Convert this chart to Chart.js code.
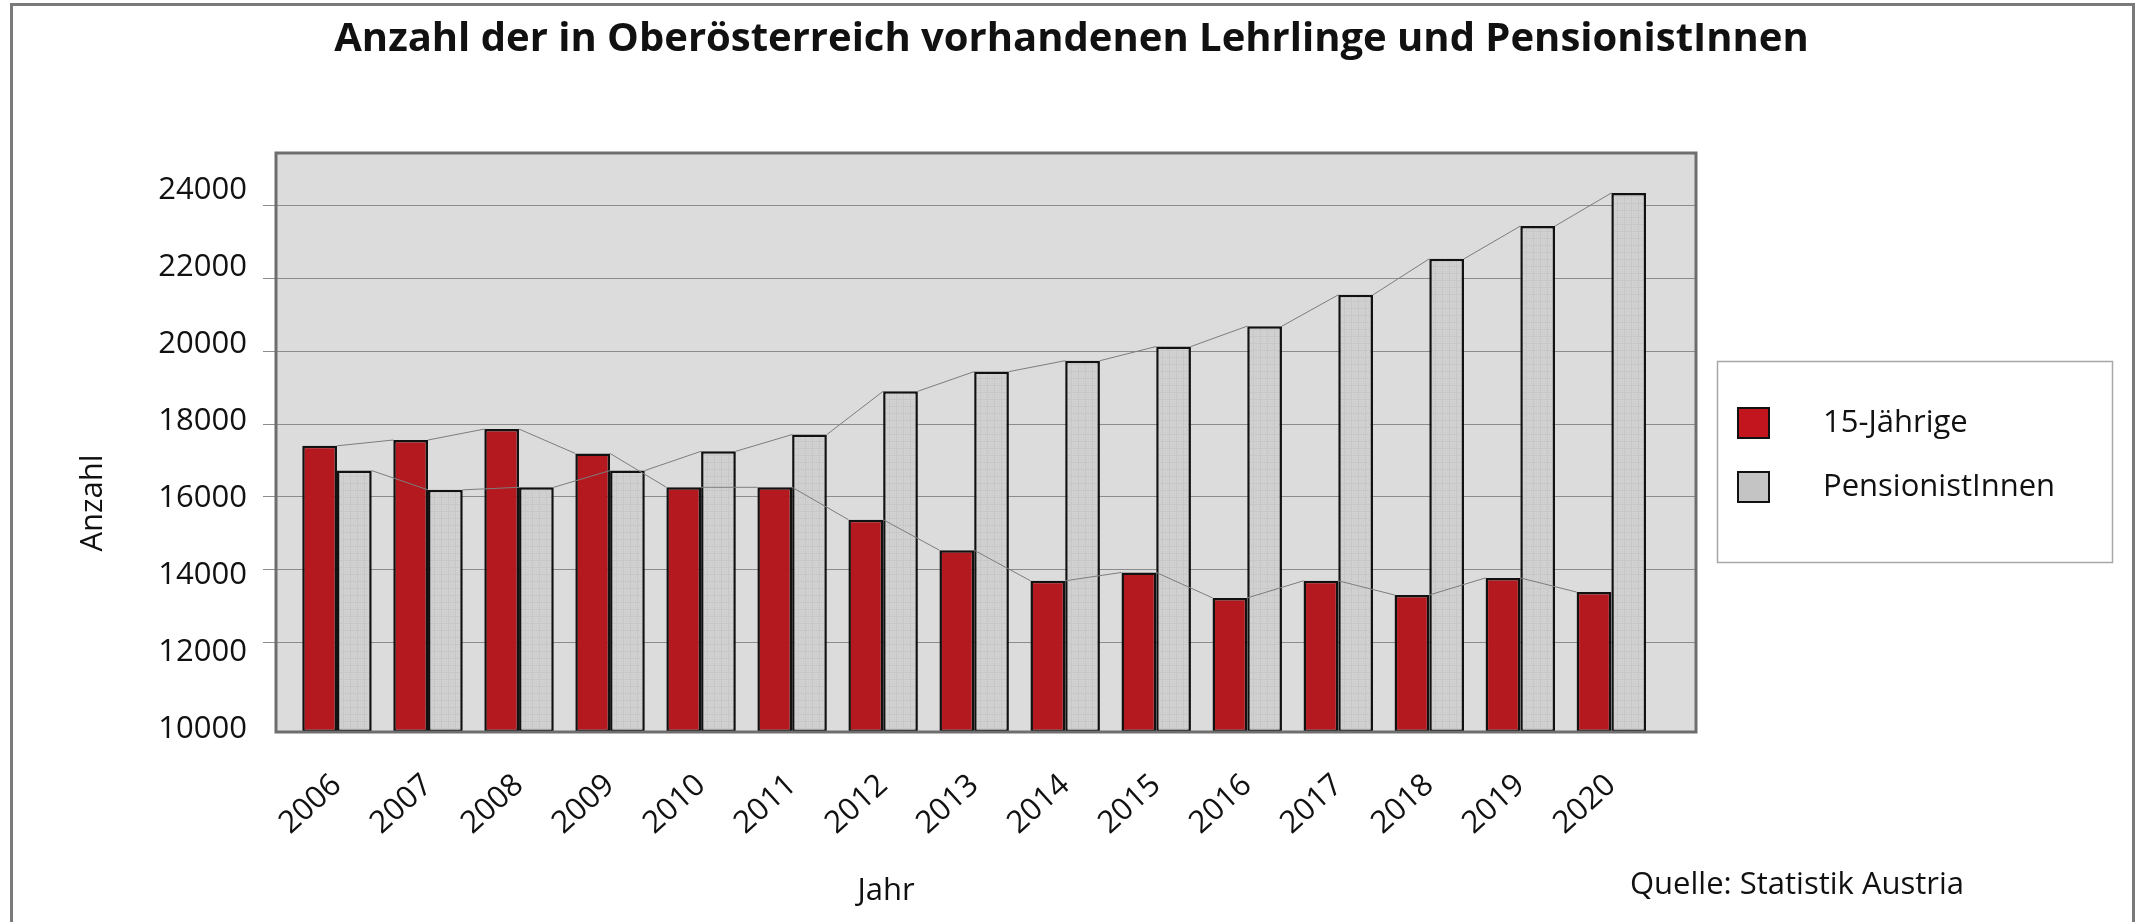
<!DOCTYPE html>
<html>
<head>
<meta charset="utf-8">
<script src="https://cdn.jsdelivr.net/npm/chart.js@4.4.1/dist/chart.umd.min.js"></script>
<style>
  html, body { margin: 0; padding: 0; background: #fff; overflow: hidden; }
  #wrap { width: 2143px; height: 922px; }
</style>
</head>
<body>
<div id="wrap"><canvas id="c" width="2143" height="922"></canvas></div>
<script>
// ---------------- data ----------------
const years = ['2006','2007','2008','2009','2010','2011','2012','2013','2014','2015','2016','2017','2018','2019','2020'];
const fuenfzehnJaehrige = [17400, 17560, 17860, 17190, 16260, 16260, 15370, 14530, 13690, 13920, 13220, 13690, 13300, 13770, 13380];
const pensionistInnen   = [16720, 16190, 16260, 16720, 17250, 17710, 18900, 19440, 19740, 20130, 20690, 21550, 22540, 23440, 24350];
const seriesNames = ['15-Jährige', 'PensionistInnen'];
const gridTickValues  = [12000, 14000, 16000, 18000, 20000, 22000, 24000];
const labelTickValues = [10000, 12000, 14000, 16000, 18000, 20000, 22000, 24000];
const titleText = 'Anzahl der in Oberösterreich vorhandenen Lehrlinge und PensionistInnen';
const yTitle = 'Anzahl';
const xTitle = 'Jahr';
const sourceText = 'Quelle: Statistik Austria';

// ---------------- styling / layout ----------------
const FONT = "'Open Sans', 'Noto Sans', sans-serif";
Chart.defaults.font.family = FONT;
const Y_MIN = 9534, Y_MAX = 25449;      // value range of the plotting scale
const YL_MIN = 9927, YL_MAX = 24977;    // range of the label scale (labels sit on their own spacing)
const RED = '#b3191f';
const LEGEND_RED = '#c2151d';
const LEGEND_GRAY = '#c4c4c4';

function makeGrayPattern() {
  const c = document.createElement('canvas');
  c.width = 7; c.height = 7;
  const g = c.getContext('2d');
  g.fillStyle = '#d1d1d1'; g.fillRect(0, 0, 7, 7);
  g.fillStyle = '#c7c7c7'; g.fillRect(0, 0, 7, 1); g.fillRect(0, 0, 1, 7);
  g.fillStyle = '#cbcbcb'; g.fillRect(3, 3, 1, 1); g.fillRect(5, 5, 1, 1); g.fillRect(2, 5, 1, 1); g.fillRect(5, 2, 1, 1);
  return g.createPattern(c, 'repeat');
}
const grayPattern = makeGrayPattern();

const framePlugin = {
  id: 'frame',
  beforeDraw(chart) {
    const ctx = chart.ctx, a = chart.chartArea;
    ctx.save();
    ctx.fillStyle = '#ffffff';
    ctx.fillRect(0, 0, chart.width, chart.height);
    // outer frame
    ctx.strokeStyle = '#7a7a7a';
    ctx.lineWidth = 3;
    ctx.strokeRect(11.5, 4.5, 2122, 940);
    // plot background
    ctx.fillStyle = '#dcdcdc';
    ctx.fillRect(a.left, a.top, a.right - a.left, a.bottom - a.top);
    ctx.restore();
  },
  afterDatasetsDraw(chart) {
    const ctx = chart.ctx, a = chart.chartArea;
    ctx.save();
    // connector lines between bar tops
    ctx.strokeStyle = '#7d7d7d';
    ctx.lineWidth = 1;
    chart.data.datasets.forEach((ds, di) => {
      const meta = chart.getDatasetMeta(di);
      ctx.beginPath();
      for (let i = 0; i < meta.data.length - 1; i++) {
        const e = meta.data[i], n = meta.data[i + 1];
        ctx.moveTo(e.x + e.width / 2, e.y);
        ctx.lineTo(n.x - n.width / 2, n.y);
      }
      ctx.stroke();
    });
    // plot frame
    ctx.strokeStyle = '#6e6e6e';
    ctx.lineWidth = 3;
    ctx.strokeRect(a.left, a.top, a.right - a.left, a.bottom - a.top);
    ctx.restore();
  },
  afterDraw(chart) {
    const ctx = chart.ctx, a = chart.chartArea;
    ctx.save();
    ctx.fillStyle = '#111';
    ctx.font = '31px ' + FONT;
    ctx.textBaseline = 'middle';
    // axis titles and source
    ctx.textAlign = 'center';
    ctx.save();
    ctx.translate(93, 503);
    ctx.rotate(-Math.PI / 2);
    ctx.fillText(yTitle, 0, 0);
    ctx.restore();
    ctx.fillText(xTitle, 886, 891);
    ctx.textAlign = 'left';
    ctx.fillText(sourceText, 1630, 885);
    // legend
    const lx = a.right + 21, ly = 361;
    ctx.fillStyle = '#ffffff';
    ctx.fillRect(lx, ly, 395, 201);
    ctx.strokeStyle = '#a8a8a8';
    ctx.lineWidth = 1.5;
    ctx.strokeRect(lx + 0.5, ly + 0.5, 395, 201);
    const swatches = [LEGEND_RED, LEGEND_GRAY];
    const rowY = [423, 487];
    seriesNames.forEach((name, i) => {
      ctx.fillStyle = swatches[i];
      ctx.fillRect(lx + 21, rowY[i] - 15, 31, 30);
      ctx.strokeStyle = '#111';
      ctx.lineWidth = 2;
      ctx.strokeRect(lx + 21, rowY[i] - 15, 31, 30);
      ctx.fillStyle = '#111';
      ctx.fillText(name, lx + 106, rowY[i]);
    });
    ctx.restore();
  }
};

const chart = new Chart(document.getElementById('c'), {
  type: 'bar',
  data: {
    datasets: [
      {
        label: seriesNames[0],
        data: years.map((y, i) => ({ x: i, y: fuenfzehnJaehrige[i] })),
        backgroundColor: RED,
        borderColor: '#111',
        borderWidth: 2.5,
        borderSkipped: false,
        base: Y_MIN,
        xAxisID: 'x', yAxisID: 'y'
      },
      {
        label: seriesNames[1],
        data: years.map((y, i) => ({ x: i, y: pensionistInnen[i] })),
        backgroundColor: grayPattern,
        borderColor: '#111',
        borderWidth: 2.5,
        borderSkipped: false,
        base: Y_MIN,
        xAxisID: 'x', yAxisID: 'y'
      }
    ]
  },
  options: {
    responsive: false,
    animation: false,
    devicePixelRatio: 1,
    categoryPercentage: 0.763,
    barPercentage: 1.0,
    layout: { padding: { left: 0, right: 0, top: 0, bottom: 0 } },
    plugins: {
      legend: { display: false },
      tooltip: { enabled: false },
      title: {
        display: true,
        text: titleText,
        color: '#111',
        font: { size: 40, weight: 'bold', family: FONT },
        padding: { top: 16, bottom: 89 }
      }
    },
    scales: {
      x: {
        type: 'linear',
        position: 'bottom',
        min: -0.67,
        max: 14.93,
        offset: false,
        grid: { display: false, drawTicks: false },
        border: { display: false },
        ticks: {
          stepSize: 1,
          includeBounds: false,
          autoSkip: false,
          minRotation: 42,
          maxRotation: 42,
          padding: 35,
          color: '#111',
          font: { size: 31, family: FONT },
          callback: (v) => Number.isInteger(v) && years[v] !== undefined ? years[v] : ''
        },
        afterFit: (s) => { s.height = 190; }
      },
      y: {
        type: 'linear',
        position: 'left',
        weight: 0,
        min: Y_MIN,
        max: Y_MAX,
        afterBuildTicks: (s) => { s.ticks = gridTickValues.map(v => ({ value: v })); },
        grid: { color: '#8c8c8c', lineWidth: 1, drawTicks: true, tickLength: 13, tickColor: '#8c8c8c' },
        border: { display: false },
        ticks: { display: false },
        afterFit: (s) => { s.width = 13; }
      },
      yl: {
        type: 'linear',
        position: 'left',
        weight: 1,
        min: YL_MIN,
        max: YL_MAX,
        afterBuildTicks: (s) => { s.ticks = labelTickValues.map(v => ({ value: v })); },
        grid: { display: false, drawTicks: false },
        border: { display: false },
        ticks: {
          padding: 16,
          color: '#111',
          font: { size: 31, family: FONT },
          callback: (v) => String(v)
        },
        afterFit: (s) => { s.width = 263; }
      },
      legendSpace: {
        type: 'linear',
        position: 'right',
        grid: { display: false, drawTicks: false },
        border: { display: false },
        ticks: { display: false },
        afterFit: (s) => { s.width = 447; }
      }
    }
  },
  plugins: [framePlugin]
});
</script>
</body>
</html>
